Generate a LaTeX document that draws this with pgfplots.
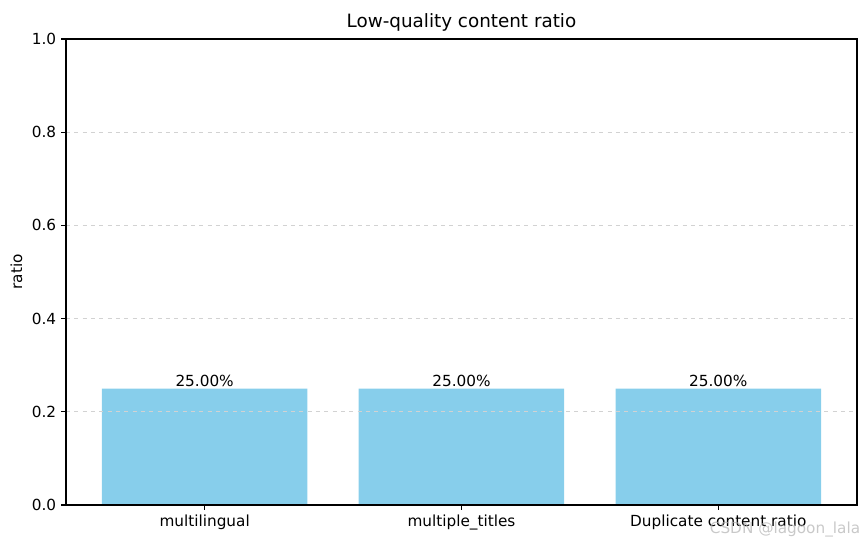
\documentclass[border=0pt]{standalone}
\usepackage{fontspec}
\setmainfont{DejaVu Sans}
\usepackage{pgfplots}
\pgfplotsset{compat=1.18}
\definecolor{skyblue}{HTML}{87CEEB}
\begin{document}
\begin{tikzpicture}
\useasboundingbox (-47.5pt,-28.1pt) rectangle (575.3pt,363.6pt);
\begin{axis}[
  at={(0,0)}, anchor=south west,
  scale only axis,
  width=569.5pt, height=335.5pt,
  xmin=-0.54, xmax=2.54,
  ymin=0, ymax=1,
  xtick=data,
  xticklabels={multilingual,multiple\_titles,Duplicate content ratio},
  ytick={0,0.2,0.4,0.6,0.8,1.0},
  yticklabels={0.0,0.2,0.4,0.6,0.8,1.0},
  /pgf/number format/assume math mode=true,
  tick label style={font=\fontsize{11}{13}\selectfont},
  tick align=outside,
  tick pos=left,
  major tick length=3.5pt,
  ylabel={ratio},
  ylabel style={font=\fontsize{11}{13}\selectfont},
  title={Low-quality content ratio},
  title style={font=\fontsize{13.2}{15}\selectfont, yshift=-4pt},
  ymajorgrids,
  major grid style={dashed, gray!35, line width=0.6pt},
  axis on top,
  axis line style={line width=0.8pt},
  every tick/.style={black, line width=0.8pt},
  nodes near coords={\pgfmathprintnumber[fixed,fixed zerofill,precision=2]{\pgfplotspointmeta}\%},
  nodes near coords style={font=\fontsize{11}{13}\selectfont, anchor=south, inner sep=1pt},
  point meta=explicit,
]
\addplot[ybar, bar width=0.8, fill=skyblue, draw=none] coordinates {
  (0,0.25) [25]
  (1,0.25) [25]
  (2,0.25) [25]
};
\end{axis}
\node[anchor=south east, text=gray!60, font=\fontsize{11}{13}\selectfont, opacity=0.7] at (575.3pt,-27pt) {CSDN @lagoon\_lala};
\end{tikzpicture}
\end{document}
